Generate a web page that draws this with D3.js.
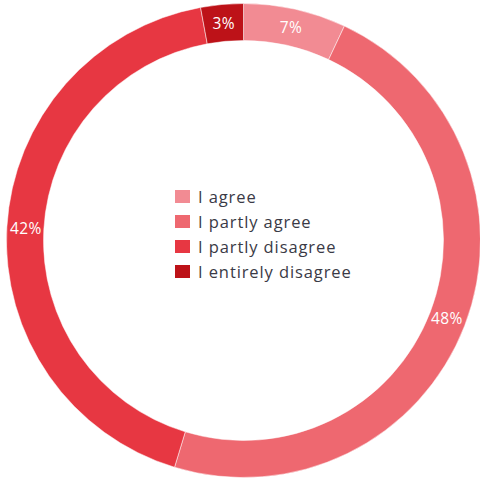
<!DOCTYPE html>
<html><head><meta charset="utf-8">
<script src="https://cdn.jsdelivr.net/npm/d3@7"></script>
<style>html,body{margin:0;padding:0;background:#fff;}svg{display:block;}</style>
</head><body>
<svg id="chart" width="480" height="479"></svg>
<script>
const categories = ["I agree", "I partly agree", "I partly disagree", "I entirely disagree"];
const values = [7.0, 47.7, 42.4, 2.9];
const colors = ["#F28B93", "#EE6870", "#E73742", "#BD1218"];

const svg = d3.select("#chart");
const cx = 243.5, cy = 240.5, rOuter = 237, rInner = 200;
const g = svg.append("g").attr("transform", `translate(${cx},${cy})`);
const data = categories.map((c, i) => ({cat: c, value: values[i], color: colors[i]}));
const pie = d3.pie().value(d => d.value).sort(null);
const arc = d3.arc().innerRadius(rInner).outerRadius(rOuter);
const labelArc = d3.arc().innerRadius(218).outerRadius(218);
const arcs = pie(data);
g.selectAll("path").data(arcs).join("path")
  .attr("d", arc).attr("fill", d => d.data.color)
  .attr("stroke", "#fff").attr("stroke-width", 0.5);
g.selectAll("text.lbl").data(arcs).join("text")
  .attr("class", "lbl")
  .attr("transform", d => `translate(${labelArc.centroid(d)})`)
  .attr("text-anchor", "middle").attr("dy", "0.35em")
  .attr("fill", "#fff").attr("font-family", "'Open Sans', sans-serif").attr("font-size", 15.5)
  .attr("letter-spacing", 0.4)
  .text(d => d3.format(".0f")(d.data.value) + "%");

const legend = svg.append("g").attr("transform", "translate(175,190)");
const rows = legend.selectAll("g").data(data).join("g")
  .attr("transform", (d, i) => `translate(0,${i * 25})`);
rows.append("rect").attr("width", 15).attr("height", 13).attr("fill", d => d.color);
rows.append("text").attr("x", 23).attr("y", 7).attr("dy", "0.35em")
  .attr("fill", "#3a3a46").attr("font-family", "'Open Sans', sans-serif").attr("font-size", 16.5)
  .attr("letter-spacing", 0.9)
  .text(d => d.cat);
</script>
</body></html>
